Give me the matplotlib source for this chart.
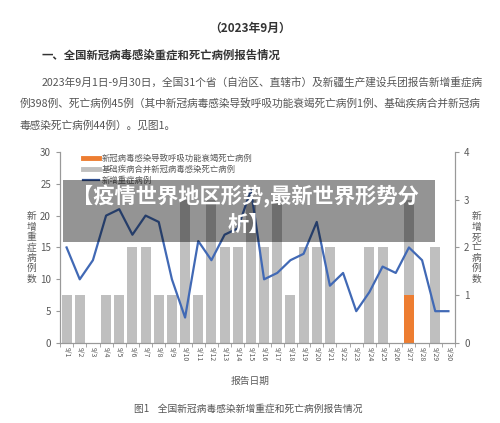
import matplotlib.pyplot as plt
from matplotlib.lines import Line2D
from matplotlib.patches import Rectangle

plt.rcParams['font.family'] = ['Noto Sans CJK SC', 'DejaVu Sans']

dates = ["9/1", "9/2", "9/3", "9/4", "9/5", "9/6", "9/7", "9/8", "9/9", "9/10",
         "9/11", "9/12", "9/13", "9/14", "9/15", "9/16", "9/17", "9/18", "9/19", "9/20",
         "9/21", "9/22", "9/23", "9/24", "9/25", "9/26", "9/27", "9/28", "9/29", "9/30"]
severe = [15, 10, 13, 20, 21, 17, 20, 19, 10, 4,
          16, 13, 17, 18, 24, 10, 11, 13, 14, 19,
          9, 11, 5, 8, 12, 11, 15, 13, 5, 5]
death_resp = [0, 0, 0, 0, 0, 0, 0, 0, 0, 0,
              0, 0, 0, 0, 0, 0, 0, 0, 0, 0,
              0, 0, 0, 0, 0, 0, 1, 0, 0, 0]
death_other = [1, 1, 0, 1, 1, 2, 2, 1, 1, 3,
               1, 3, 2, 2, 3, 2, 3, 1, 2, 2,
               2, 0, 0, 2, 2, 0, 2, 0, 2, 0]

grey_txt = "#595959"
fig = plt.figure(figsize=(5, 4.23), dpi=100)

# document text
fig.text(0.5, 0.933, "（2023年9月）", ha="center", va="center", fontsize=8.5,
         fontweight="bold", color="#333333")
fig.text(0.084, 0.870, "一、全国新冠病毒感染重症和死亡病例报告情况", ha="left", va="center",
         fontsize=8.2, fontweight="bold", color="#333333")
para = ["2023年9月1日-9月30日，全国31个省（自治区、直辖市）及新疆生产建设兵团报告新增重症病",
        "例398例、死亡病例45例（其中新冠病毒感染导致呼吸功能衰竭死亡病例1例、基础疾病合并新冠病",
        "毒感染死亡病例44例）。见图1。"]
fig.text(0.084, 0.806, para[0], ha="left", va="center", fontsize=7.7, color="#555555")
fig.text(0.040, 0.756, para[1], ha="left", va="center", fontsize=7.7, color="#555555")
fig.text(0.040, 0.704, para[2], ha="left", va="center", fontsize=7.7, color="#555555")

ax = fig.add_axes([0.12, 0.189, 0.79, 0.452])
ax2 = ax.twinx()
x = list(range(len(dates)))

ax2.bar(x, death_resp, width=0.75, color="#ed7d31")
ax2.bar(x, death_other, width=0.75, bottom=death_resp, color="#bfbfbf")
ax2.set_ylim(0, 4)
ax2.set_yticks([0, 1, 2, 3, 4])

ax.plot(x, severe, color="#4169b5", linewidth=1.6)
ax.set_ylim(0, 30)
ax.set_yticks([0, 5, 10, 15, 20, 25, 30])
ax.set_xlim(-0.5, len(dates) - 0.5)
ax.set_zorder(ax2.get_zorder() + 1)
ax.patch.set_visible(False)

ax.set_xticks(x)
ax.set_xticklabels(dates, rotation=270, fontsize=5, color=grey_txt)
ax.set_xticks([i - 0.5 for i in range(len(dates) + 1)], minor=True)
ax.tick_params(axis="x", which="major", length=0, pad=3)
ax.tick_params(axis="x", which="minor", length=3, color="#999999")
ax.tick_params(axis="y", labelsize=7, colors=grey_txt, length=3)
ax2.tick_params(axis="y", labelsize=7, colors=grey_txt, length=3)
ax.tick_params(axis="y", color="#999999")
ax2.tick_params(axis="y", color="#999999")

for a in (ax, ax2):
    a.spines["top"].set_visible(False)
    for s in ("left", "right", "bottom"):
        a.spines[s].set_color("#999999")
        a.spines[s].set_linewidth(0.8)

ax.set_ylabel("\n".join("新增重症病例数"), rotation=0, fontsize=7, color=grey_txt,
              labelpad=6, va="center", linespacing=1.05)
ax2.set_ylabel("\n".join("新增死亡病例数"), rotation=0, fontsize=7, color=grey_txt,
               labelpad=5, va="center", linespacing=1.05)

handles = [Line2D([0], [0], color="#ed7d31", linewidth=3.5),
           Line2D([0], [0], color="#bfbfbf", linewidth=3.5),
           Line2D([0], [0], color="#2f4f8f", linewidth=1.6)]
labels = ["新冠病毒感染导致呼吸功能衰竭死亡病例", "基础疾病合并新冠病毒感染死亡病例", "新增重症病例"]
ax.legend(handles, labels, loc="upper left", bbox_to_anchor=(0.045, 1.015), frameon=False,
          fontsize=6, labelcolor=grey_txt, handlelength=2.0, handletextpad=0.3,
          labelspacing=0.25, borderaxespad=0.2)

fig.text(0.5, 0.100, "报告日期", ha="center", va="center", fontsize=7, color=grey_txt)
fig.text(0.496, 0.033, "图1    全国新冠病毒感染新增重症和死亡病例报告情况", ha="center",
         va="center", fontsize=7, color="#555555")

# overlay banner
fig.add_artist(Rectangle((0.126, 0.428), 0.744, 0.146, transform=fig.transFigure,
                         facecolor="black", alpha=0.42, edgecolor="none", zorder=10))
fig.text(0.490, 0.536, "【疫情世界地区形势,最新世界形势分", ha="center", va="center",
         fontsize=15.3, fontweight="bold", color="white", zorder=11)
fig.text(0.498, 0.470, "析】", ha="center", va="center",
         fontsize=15.3, fontweight="bold", color="white", zorder=11)

fig.savefig("out.png", dpi=100)
